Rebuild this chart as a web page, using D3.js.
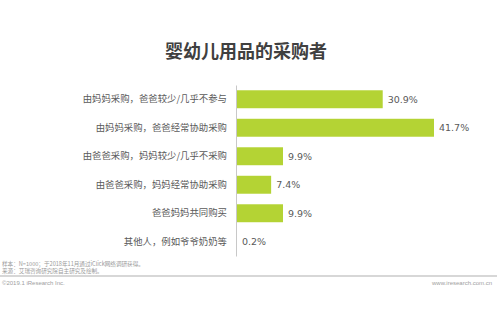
<!DOCTYPE html>
<html><head><meta charset="utf-8">
<script src="https://cdn.jsdelivr.net/npm/d3@7"></script>
<style>body{margin:0;background:#fff}svg{display:block}</style>
</head><body>
<script>
const categories = ["由妈妈采购，爸爸较少/几乎不参与","由妈妈采购，爸爸经常协助采购","由爸爸采购，妈妈较少/几乎不采购","由爸爸采购，妈妈经常协助采购","爸爸妈妈共同购买","其他人，例如爷爷奶奶等"];
const values = [30.9, 41.7, 9.9, 7.4, 9.9, 0.2];
const title = "婴幼儿用品的采购者";
const notes = ["样本：N=1000；于2018年11月通过iClick网络调研获得。","来源：艾瑞咨询研究院自主研究及绘制。"];
const copyright = "©2019.1 iResearch Inc.";
const site = "www.iresearch.com.cn";

const W = 500, H = 325;
const svg = d3.select("body").append("svg").attr("width", W).attr("height", H);
const cjk = "'Noto Sans CJK SC','Noto Sans',sans-serif";

svg.append("text").attr("x", 246).attr("y", 58).attr("text-anchor", "middle")
  .attr("font-family", cjk).attr("font-weight", "bold").attr("font-size", 18)
  .attr("fill", "#404040").text(title);

const x = d3.scaleLinear().domain([0, 41.7]).range([236, 434]);
const y = d3.scaleBand().domain(categories).range([85, 256]).paddingInner(0.37).paddingOuter(0.185);

svg.selectAll("rect.bar").data(values).join("rect").attr("class", "bar")
  .attr("x", x(0)).attr("y", (d, i) => y(categories[i]))
  .attr("width", d => x(d) - x(0)).attr("height", y.bandwidth())
  .attr("fill", "#b4d334");

const axis = svg.append("g").attr("transform", `translate(${x(0)},0)`)
  .call(d3.axisLeft(y).tickSize(0).tickPadding(9));
axis.select(".domain").attr("stroke", "#c8c8c8").attr("stroke-width", 1);
axis.selectAll("text").attr("font-family", cjk).attr("font-size", 9.4).attr("fill", "#595959");

svg.selectAll("text.val").data(values).join("text").attr("class", "val")
  .attr("x", d => x(d) + 5).attr("y", (d, i) => y(categories[i]) + y.bandwidth() / 2)
  .attr("dy", "0.35em").attr("font-family", "'DejaVu Sans',Verdana,sans-serif")
  .attr("font-size", 9.5).attr("fill", "#595959").text(d => d.toFixed(1) + "%");

svg.selectAll("text.note").data(notes).join("text").attr("class", "note")
  .attr("x", 2).attr("y", (d, i) => 266.3 + i * 6.6)
  .attr("font-family", cjk).attr("font-size", 5.6).attr("fill", "#9a9a9a").text(d => d);

svg.append("line").attr("x1", 0).attr("x2", 497).attr("y1", 276).attr("y2", 276)
  .attr("stroke", "#b0b0b0").attr("stroke-width", 1.2);

svg.append("text").attr("x", 2).attr("y", 284.5).attr("font-family", "'Liberation Sans',Arial,sans-serif")
  .attr("font-size", 6).attr("fill", "#a0a0a0").text(copyright);
svg.append("text").attr("x", 492).attr("y", 284.5).attr("text-anchor", "end")
  .attr("font-family", "'Liberation Sans',Arial,sans-serif")
  .attr("font-size", 6).attr("fill", "#a0a0a0").text(site);
</script>
</body></html>
